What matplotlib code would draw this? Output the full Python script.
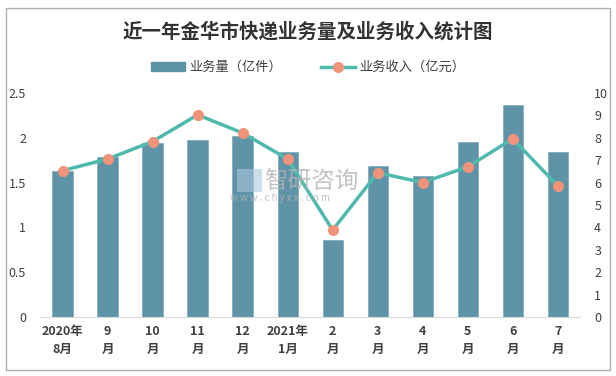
import matplotlib.pyplot as plt
from matplotlib.patches import Rectangle
from matplotlib.lines import Line2D

plt.rcParams['font.family'] = ['Noto Sans CJK SC', 'DejaVu Sans']

months = ["2020年\n8月", "9\n月", "10\n月", "11\n月", "12\n月", "2021年\n1月",
          "2\n月", "3\n月", "4\n月", "5\n月", "6\n月", "7\n月"]
volume = [1.63, 1.79, 1.94, 1.97, 2.02, 1.84, 0.86, 1.68, 1.57, 1.95, 2.37, 1.84]
revenue = [6.53, 7.05, 7.83, 9.02, 8.21, 7.05, 3.88, 6.44, 6.00, 6.70, 7.95, 5.85]

bar_color = "#5f93a8"
line_color = "#4fb9ad"
dot_color = "#f0937a"
text_color = "#404040"


def main():
    fig = plt.figure(figsize=(6.16, 3.76), dpi=100)
    fig.patches.append(Rectangle((0.009, 0.016), 0.982, 0.962, transform=fig.transFigure,
                                 fill=False, edgecolor="#b0b0b0", linewidth=1))

    ax = fig.add_axes([0.065, 0.157, 0.877, 0.596])
    x = list(range(len(months)))
    ax.bar(x, volume, width=0.45, color=bar_color, edgecolor="#7ea9ba", linewidth=0.5, zorder=2)
    ax.set_ylim(0, 2.5)
    ax.set_yticks([0, 0.5, 1, 1.5, 2, 2.5])
    ax.set_yticklabels(["0", "0.5", "1", "1.5", "2", "2.5"])
    ax.set_xlim(-0.5, len(months) - 0.5)
    ax.set_xticks(x)
    ax.set_xticklabels(months, fontweight="bold", fontsize=9, linespacing=1.5)

    ax2 = ax.twinx()
    ax2.plot(x, revenue, color=line_color, linewidth=2.5, marker="o", markersize=7,
             markerfacecolor=dot_color, markeredgecolor=dot_color, zorder=3)
    ax2.set_ylim(0, 10)
    ax2.set_yticks(range(0, 11))

    for a in (ax, ax2):
        for s in a.spines.values():
            s.set_visible(False)
        a.tick_params(length=0, colors=text_color, labelsize=9)
    ax.spines["bottom"].set_visible(True)
    ax.spines["bottom"].set_color("#d9d9d9")
    ax.tick_params(axis="y", pad=10)
    ax.tick_params(axis="x", pad=6)
    ax2.tick_params(axis="y", pad=10)

    fig.text(0.5, 0.915, "近一年金华市快递业务量及业务收入统计图", ha="center", va="center",
             fontsize=14, fontweight="bold", color="#333333")

    handles = [Rectangle((0, 0), 1, 1, color=bar_color),
               Line2D([], [], color=line_color, linewidth=2.5, marker="o", markersize=7,
                      markerfacecolor=dot_color, markeredgecolor=dot_color)]
    fig.legend(handles, ["业务量（亿件）", "业务收入（亿元）"], loc="center",
               bbox_to_anchor=(0.5, 0.82), ncol=2, frameon=False, fontsize=9.5,
               handlelength=2.6, columnspacing=3, handletextpad=0.3, labelcolor=text_color)

    # watermark
    fig.text(0.505, 0.516, "智研咨询", fontsize=17, color="#b4b4b4", alpha=0.8,
             ha="center", va="center", zorder=5)
    fig.text(0.455, 0.474, "w w w . c h y x x . c o m", fontsize=7, color="#b4b4b4", alpha=0.8,
             ha="center", va="center", zorder=5)
    fig.patches.append(Rectangle((0.385, 0.49), 0.04, 0.06, transform=fig.transFigure,
                                 facecolor="#a9c8dd", alpha=0.6, edgecolor="none", zorder=5))

    fig.savefig("out.png", dpi=100)


if __name__ == '__main__':
    main()
